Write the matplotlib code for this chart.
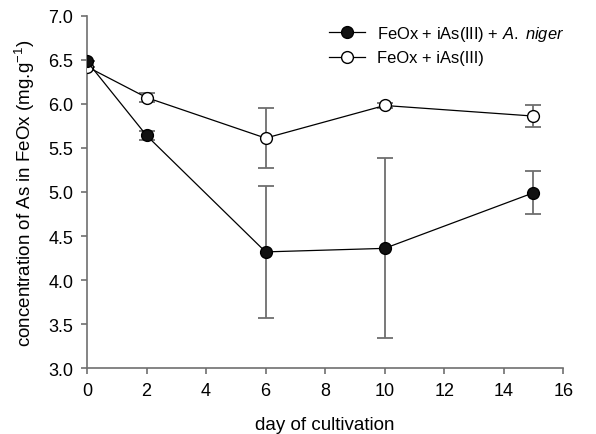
import matplotlib
matplotlib.use("Agg")
import matplotlib.pyplot as plt
from matplotlib.lines import Line2D

plt.rcParams['font.family'] = ['Liberation Sans', 'DejaVu Sans']
plt.rcParams['mathtext.fontset'] = 'custom'
plt.rcParams['mathtext.rm'] = 'Liberation Sans'
plt.rcParams['mathtext.it'] = 'Liberation Sans:italic'

days = [0, 2, 6, 10, 15]
niger_mean = [6.48, 5.64, 4.32, 4.36, 4.99]
niger_err = [0.0, 0.055, 0.75, 1.02, 0.245]
ctrl_mean = [6.42, 6.07, 5.61, 5.98, 5.86]
ctrl_err = [0.0, 0.05, 0.34, 0.03, 0.12]
labels = ['FeOx + iAs(III) + $\\it{A.\\ niger}$', 'FeOx + iAs(III)']

fig = plt.figure(figsize=(5.96, 4.35), dpi=100)
ax = fig.add_axes([0.146, 0.151, 0.799, 0.811])

ecol = '#6e6e6e'
ax.errorbar(days, ctrl_mean, yerr=ctrl_err, fmt='o-', color='black', mfc='white', mec='black',
            ms=8.5, lw=0.9, ecolor=ecol, elinewidth=1.3, capsize=6, capthick=1.3, zorder=3)
ax.errorbar(days, niger_mean, yerr=niger_err, fmt='o-', color='black', mfc='#111111', mec='black',
            ms=8.5, lw=0.9, ecolor=ecol, elinewidth=1.3, capsize=6, capthick=1.3, zorder=4)

ax.set_xlim(0, 16)
ax.set_ylim(3.0, 7.0)
ax.set_xticks(range(0, 17, 2))
ax.set_yticks([3.0, 3.5, 4.0, 4.5, 5.0, 5.5, 6.0, 6.5, 7.0])
ax.set_yticklabels(['3.0', '3.5', '4.0', '4.5', '5.0', '5.5', '6.0', '6.5', '7.0'])
for s in ['top', 'right']:
    ax.spines[s].set_visible(False)
for s in ['left', 'bottom']:
    ax.spines[s].set_color('#707070')
    ax.spines[s].set_linewidth(1.2)
ax.tick_params(direction='out', length=4, width=1.2, color='#707070', labelsize=13, pad=6)

ax.set_xlabel('day of cultivation', fontsize=13.5, labelpad=12)
ax.set_ylabel('concentration of As in FeOx (mg.g$^{-1}$)', fontsize=13.5, labelpad=8)

handles = [Line2D([], [], color='black', lw=0.9, marker='o', ms=8.5, mfc='#111111', mec='black'),
           Line2D([], [], color='black', lw=0.9, marker='o', ms=8.5, mfc='white', mec='black')]
ax.legend(handles, labels, loc='upper right', bbox_to_anchor=(1.012, 0.99), frameon=False,
          fontsize=11.9, handlelength=2.2, handletextpad=0.7, labelspacing=0.45, borderaxespad=0.0,
          borderpad=0.3)

fig.savefig('out.png', dpi=100)
